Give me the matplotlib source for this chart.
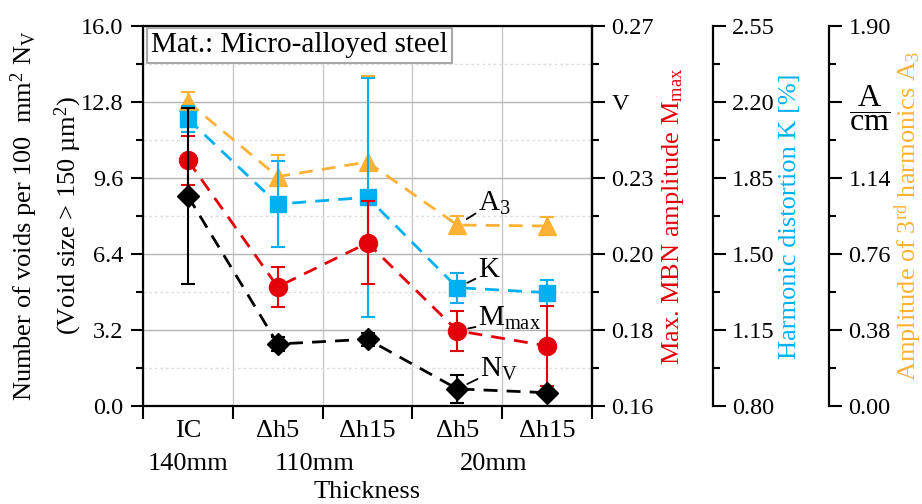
import matplotlib
matplotlib.use('Agg')
import matplotlib.pyplot as plt
from matplotlib.ticker import MultipleLocator, FixedLocator
from matplotlib.transforms import blended_transform_factory

plt.rcParams['font.family'] = ['Liberation Serif', 'DejaVu Serif']
plt.rcParams['mathtext.fontset'] = 'custom'
plt.rcParams['mathtext.rm'] = 'Liberation Serif'
plt.rcParams['mathtext.it'] = 'Liberation Serif:italic'
plt.rcParams['font.size'] = 19
plt.rcParams['xtick.labelsize'] = 19
plt.rcParams['ytick.labelsize'] = 17.5

# categories
cats = ['IC', 'Δh5', 'Δh15', 'Δh5', 'Δh15']
groups = ['140mm', '110mm', '20mm']
group_members = [[0], [1, 2], [3, 4]]

# Number of voids N_V
nv = [8.84, 2.61, 2.81, 0.72, 0.56]
nv_err = [3.7, 0.3, 0.28, 0.58, 0.05]
# Max. MBN amplitude M_max [V]
mmax = [0.2311, 0.1945, 0.2072, 0.1818, 0.1774]
mmax_err = [0.0071, 0.0058, 0.012, 0.0058, 0.0116]
# Harmonic distortion K [%]
kdist = [2.122, 1.730, 1.761, 1.345, 1.322]
kdist_err = [0.058, 0.2, 0.55, 0.069, 0.06]
# Amplitude of 3rd harmonics A3 [A/cm]
a3 = [1.52, 1.147, 1.22, 0.905, 0.90]
a3_err = [0.05, 0.11, 0.43, 0.045, 0.045]

nv_ticks = [0.0, 3.2, 6.4, 9.6, 12.8, 16.0]
m_ticks = [0.16, 0.182, 0.204, 0.226, 0.248, 0.27]
m_labels = ['0.16', '0.18', '0.20', '0.23', 'V', '0.27']
k_ticks = [0.80, 1.15, 1.50, 1.85, 2.20, 2.55]
a_ticks = [0.0, 0.38, 0.76, 1.14, 1.52, 1.90]
a_labels = ['0.00', '0.38', '0.76', '1.14', r'$\dfrac{\mathrm{A}}{\mathrm{cm}}$', '1.90']

RED = '#e3000b'
BLUE = '#00b0f0'
ORANGE = '#fdb135'

x = list(range(1, len(cats) + 1))

fig = plt.figure(figsize=(9.22, 5.04), dpi=100)
ax = fig.add_axes([143 / 922, 1 - 406 / 504, 449 / 922, 380 / 504])
ax_a = ax.twinx()
ax_k = ax.twinx()
ax_m = ax.twinx()

ax_a.set_zorder(1)
ax_k.set_zorder(2)
ax_m.set_zorder(3)
ax.set_zorder(4)
ax.patch.set_visible(False)
ax_a.patch.set_visible(True)
ax_a.patch.set_facecolor('white')

ax.set_xlim(0.5, len(cats) + 0.5)
ax.set_ylim(0, 16)
ax_m.set_ylim(0.16, 0.27)
ax_k.set_ylim(0.80, 2.55)
ax_a.set_ylim(0, 1.90)

dash = (0, (5, 3.3))
common = dict(lw=2, capsize=5, capthick=1.5, elinewidth=1.5, ls=dash)
ax_a.errorbar(x, a3, yerr=a3_err, color=ORANGE, marker='^', ms=13, **common)
ax_k.errorbar(x, kdist, yerr=kdist_err, color=BLUE, marker='s', ms=12, **common)
ax_m.errorbar(x, mmax, yerr=mmax_err, color=RED, marker='o', ms=13, **common)
ax.errorbar(x, nv, yerr=nv_err, color='black', marker='D', ms=11, **common)

# grid on the bottom axes
ax_a.xaxis.set_visible(True)
ax_a.set_xticks([i + 0.5 for i in range(len(cats) + 1)])
ax_a.tick_params(axis='x', which='both', length=0, labelbottom=False, labeltop=False)
ax_a.yaxis.set_major_locator(FixedLocator(a_ticks))
ax_a.yaxis.set_minor_locator(FixedLocator([v + 0.19 for v in a_ticks[:-1]]))
ax_a.grid(axis='x', color='#c8c8c8', lw=1.0)
ax_a.grid(axis='y', which='major', color='#b4b4b4', lw=1.0)
ax_a.grid(axis='y', which='minor', color='#dedede', lw=1.0, ls=(0, (2, 2)))

# x axis
ax.set_xticks([i + 0.5 for i in range(len(cats) + 1)])
ax.set_xticklabels([])
ax.set_xticks(x, cats, minor=True)
ax.tick_params(axis='x', which='major', direction='out', length=9, width=1.5)
ax.tick_params(axis='x', which='minor', length=0, pad=10)
trans = blended_transform_factory(ax.transData, ax.transAxes)
for g, members in zip(groups, group_members):
    gx = sum(x[m] for m in members) / len(members)
    if len(members) > 1:
        gx -= 0.09
    ax.text(gx, -0.153, g, transform=trans, ha='center', va='center')
ax.set_xlabel('Thickness', va='baseline')
ax.xaxis.set_label_coords(0.5, -0.242)

# left axis
ax.set_yticks(nv_ticks)
ax.set_yticklabels(['%.1f' % v for v in nv_ticks])
ax.yaxis.set_minor_locator(MultipleLocator(1.6))
ax.tick_params(axis='y', which='major', direction='out', length=9, width=1.5, pad=5)
ax.tick_params(axis='y', which='minor', direction='out', length=5, width=1.5)
ax.text(-0.265, 0.5, r'Number of voids per 100  mm$^2$ N$_\mathrm{V}$', transform=ax.transAxes,
        rotation=90, ha='center', va='center')
ax.text(-0.166, 0.5, r'(Void size > 150 µm$^2$)', transform=ax.transAxes,
        rotation=90, ha='center', va='center')

# M_max axis
ax_m.set_yticks(m_ticks)
ax_m.set_yticklabels(m_labels)
ax_m.yaxis.set_minor_locator(FixedLocator([v + 0.011 for v in m_ticks[:-1]]))
ax_m.tick_params(axis='y', which='major', direction='out', length=9, width=1.5, pad=5)
ax_m.tick_params(axis='y', which='minor', direction='out', length=5, width=1.5)
ax_m.set_ylabel(r'Max. MBN amplitude M$_\mathrm{max}$', color=RED)
ax_m.yaxis.set_label_coords(1.180, 0.5)

# K axis
ax_k.spines['right'].set_position(('axes', 1.269))
ax_k.set_yticks(k_ticks)
ax_k.set_yticklabels(['%.2f' % v for v in k_ticks])
ax_k.yaxis.set_minor_locator(FixedLocator([v + 0.175 for v in k_ticks[:-1]]))
ax_k.tick_params(axis='y', which='major', direction='out', length=9, width=1.5, pad=5)
ax_k.tick_params(axis='y', which='minor', direction='out', length=5, width=1.5)
ax_k.set_ylabel('Harmonic distortion K [%]', color=BLUE)
ax_k.yaxis.set_label_coords(1.441, 0.5)

# A3 axis
ax_a.spines['right'].set_position(('axes', 1.528))
ax_a.set_yticklabels(a_labels)
ax_a.get_yticklabels()[4].set_fontsize(23)
ax_a.tick_params(axis='y', which='major', direction='out', length=9, width=1.5, pad=5)
ax_a.tick_params(axis='y', which='minor', direction='out', length=5, width=1.5)
ax_a.set_ylabel(r'Amplitude of 3$^\mathrm{rd}$ harmonics A$_3$', color=ORANGE)
ax_a.yaxis.set_label_coords(1.704, 0.5)

for a in (ax_m, ax_k, ax_a):
    a.yaxis.label.set_va('center')
    a.yaxis.label.set_ha('center')

for name, sp in ax.spines.items():
    sp.set_linewidth(1.6)
for a in (ax_m, ax_k, ax_a):
    for name in ('left', 'top', 'bottom'):
        a.spines[name].set_visible(False)
    a.spines['right'].set_linewidth(1.6)

# text box
ax.text(0.018, 0.949, 'Mat.: Micro-alloyed steel', transform=ax.transAxes,
        ha='left', va='center', fontsize=21,
        bbox=dict(boxstyle='square,pad=0.15', fc='white', ec='#a8a8a8', lw=1.5))

# series labels
ann = dict(textcoords='offset pixels', ha='left', va='baseline', fontsize=21,
           arrowprops=dict(arrowstyle='-', color='black', lw=1.3, shrinkA=0, shrinkB=8,
                           relpos=(0, 0.2)))
ax_a.annotate(r'A$_3$', xy=(x[3], a3[3]), xytext=(21, 14), **ann)
ax_k.annotate('K', xy=(x[3], kdist[3]), xytext=(21, 11), **ann)
ax_m.annotate(r'M$_\mathrm{max}$', xy=(x[3], mmax[3]), xytext=(21, 5), **ann)
ax.annotate(r'N$_\mathrm{V}$', xy=(x[3], nv[3]), xytext=(23, 12), **ann)

fig.savefig('out.png', dpi=100)
